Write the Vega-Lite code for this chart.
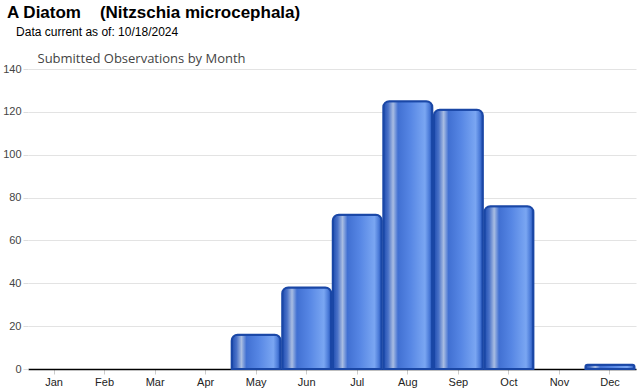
{
  "$schema": "https://vega.github.io/schema/vega-lite/v6.json",
  "width": 608,
  "height": 300,
  "autosize": {"type": "none"},
  "padding": {"left": 28, "top": 69, "right": 4, "bottom": 21},
  "background": "white",
  "title": {
    "text": "A Diatom\u2007\u2007(Nitzschia microcephala)",
    "subtitle": "\u200b\u2007\u2009Data current as of: 10/18/2024",
    "anchor": "start",
    "frame": "group",
    "dx": -21,
    "offset": 13,
    "font": "Liberation Sans",
    "fontSize": 17,
    "fontWeight": "bold",
    "color": "#000000",
    "subtitleFont": "Liberation Sans",
    "subtitleFontSize": 12,
    "subtitleColor": "#000000",
    "subtitlePadding": 5
  },
  "data": {
    "values": [
      {"month": "May", "count": 16},
      {"month": "Jun", "count": 38},
      {"month": "Jul", "count": 72},
      {"month": "Aug", "count": 125},
      {"month": "Sep", "count": 121},
      {"month": "Oct", "count": 76},
      {"month": "Dec", "count": 2}
    ]
  },
  "mark": {
    "type": "bar",
    "stroke": "#1a47a6",
    "strokeWidth": 2,
    "cornerRadiusTopLeft": 6,
    "cornerRadiusTopRight": 6,
    "color": {
      "gradient": "linear",
      "x1": 0, "x2": 1, "y1": 0, "y2": 0,
      "stops": [
        {"offset": 0, "color": "#1e4cb0"},
        {"offset": 0.1, "color": "#4a72c8"},
        {"offset": 0.2, "color": "#a9bde2"},
        {"offset": 0.3, "color": "#4170d2"},
        {"offset": 0.55, "color": "#5686e4"},
        {"offset": 0.85, "color": "#7aa6f2"},
        {"offset": 0.94, "color": "#4a7ad8"},
        {"offset": 1, "color": "#1e4cb0"}
      ]
    }
  },
  "encoding": {
    "x": {
      "field": "month",
      "type": "nominal",
      "scale": {
        "domain": ["Jan", "Feb", "Mar", "Apr", "May", "Jun", "Jul", "Aug", "Sep", "Oct", "Nov", "Dec"],
        "paddingInner": 0.03,
        "paddingOuter": 0.03
      },
      "axis": {
        "title": null,
        "labelAngle": 0,
        "labelFont": "Liberation Sans",
        "labelFontSize": 11,
        "labelColor": "#222222",
        "domainColor": "#000000",
        "domainWidth": 1.5,
        "tickColor": "#cccccc",
        "tickSize": 5,
        "labelPadding": 2
      }
    },
    "y": {
      "field": "count",
      "type": "quantitative",
      "scale": {"domain": [0, 140], "nice": false},
      "axis": {
        "values": [0, 20, 40, 60, 80, 100, 120, 140],
        "title": "Submitted Observations by Month",
        "titleAngle": 0,
        "titleAlign": "left",
        "titleBaseline": "alphabetic",
        "titleX": 9,
        "titleY": -7,
        "titleFont": "Open Sans",
        "titleFontSize": 13,
        "titleFontWeight": "normal",
        "titleColor": "#444444",
        "labelFont": "Liberation Sans",
        "labelFontSize": 11,
        "labelColor": "#444444",
        "domain": false,
        "gridColor": "#e3e3e3",
        "tickColor": "#dddddd",
        "tickSize": 5,
        "labelPadding": 2
      }
    }
  },
  "config": {"view": {"stroke": null}}
}
